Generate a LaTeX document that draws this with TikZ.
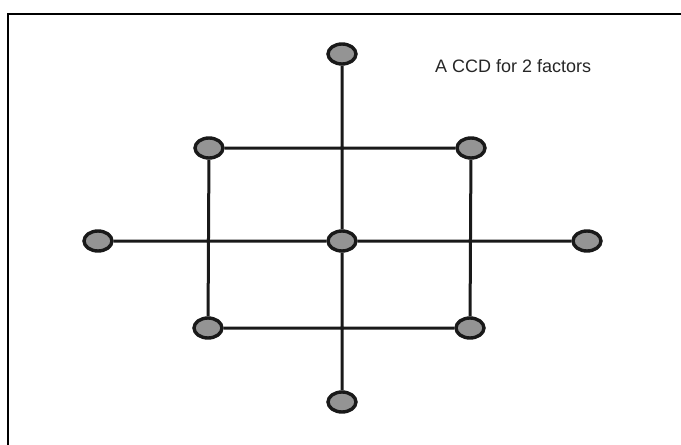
\documentclass[tikz,border=0pt]{standalone}
\usepackage{fontspec}
\setmainfont{Liberation Sans}
\usetikzlibrary{shapes.geometric}
\begin{document}
\begin{tikzpicture}[x=1pt,y=-1pt,
  pt/.style={ellipse,draw=black!90,line width=3.4pt,fill=black!42,minimum width=28pt,minimum height=20pt,inner sep=0pt},
  ln/.style={draw=black!90,line width=3pt},
  frm/.style={draw=black,line width=2.4pt}]
\useasboundingbox (0,0) rectangle (681,445);
\coordinate (fc) at (8,14);
\coordinate (fr) at (681,14);
\coordinate (fb) at (8,445);
\draw[frm] (fr) -- (fc) -- (fb);
% nodes
\node[pt] (t) at (342,54) {};
\node[pt] (ul) at (209,148) {};
\node[pt] (ur) at (471,148) {};
\node[pt] (l) at (98,241) {};
\node[pt] (c) at (342,241) {};
\node[pt] (r) at (587,241) {};
\node[pt] (ll) at (208,328) {};
\node[pt] (lr) at (470,328) {};
\node[pt] (b) at (342,402) {};
% lines
\path[ln] (t) -- (c) (c) -- (b)
          (l) -- (c) (c) -- (r)
          (ul) -- (ur) (ur) -- (lr) (lr) -- (ll) (ll) -- (ul);
\node[anchor=west,font=\fontsize{18}{21}\selectfont,text=black!85,inner sep=0pt] (title) at (435,66) {A CCD for 2 factors};
\end{tikzpicture}
\end{document}
